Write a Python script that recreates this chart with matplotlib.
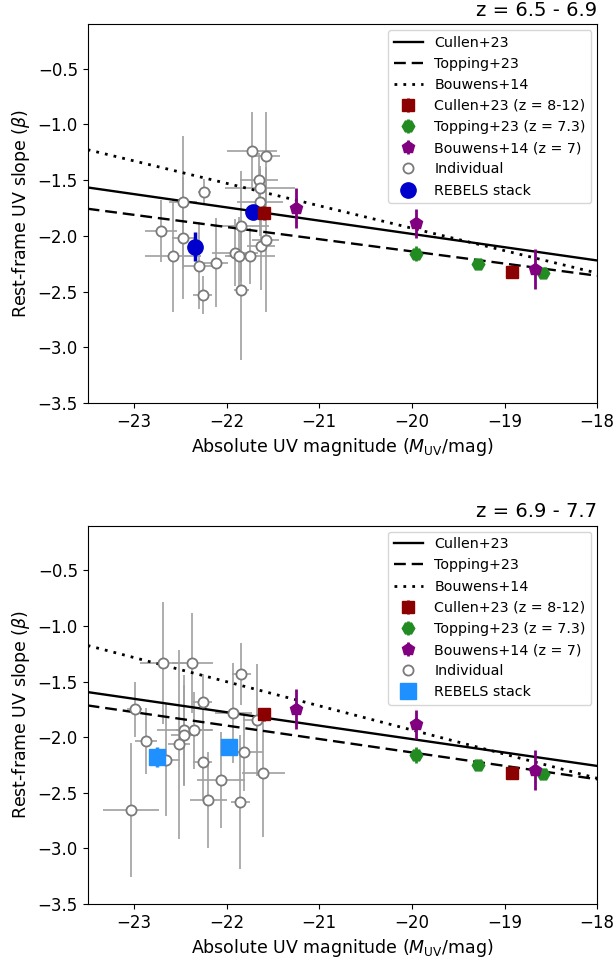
import matplotlib
matplotlib.use("Agg")
import matplotlib.pyplot as plt
import numpy as np

# ---------------- data ----------------
M_ends = [-23.5, -18.0]
# relation values (beta) at M_ends, per panel
cullen_line_top = [-1.566, -2.221]
topping_line_top = [-1.757, -2.358]
bouwens_line_top = [-1.227, -2.334]
cullen_line_bot = [-1.595, -2.259]
topping_line_bot = [-1.715, -2.379]
bouwens_line_bot = [-1.176, -2.370]

# literature points
cullen_M = [-21.60, -18.92]
cullen_b = [-1.795, -2.320]
cullen_err = [0.06, 0.06]
topping_M = [-19.96, -19.29, -18.59]
topping_b = [-2.160, -2.253, -2.334]
topping_err = [0.07, 0.03, 0.03]
bouwens_M = [-21.25, -19.96, -18.67]
bouwens_b = [-1.750, -1.885, -2.298]
bouwens_err = [0.18, 0.13, 0.18]

# individual galaxies, z = 6.5 - 6.9
ind1_M = [-21.73, -21.57, -21.65, -21.64, -21.64, -22.24, -22.47, -22.71, -22.47,
          -21.84, -22.58, -22.30, -22.11, -21.91, -21.87, -21.75, -21.63, -21.58,
          -22.26, -21.84]
ind1_b = [-1.242, -1.287, -1.503, -1.571, -1.700, -1.607, -1.700, -1.957, -2.020,
          -1.916, -2.180, -2.270, -2.240, -2.150, -2.180, -2.180, -2.090, -2.035,
          -2.530, -2.490]
ind1_xerr = [0.27, 0.15, 0.20, 0.38, 0.25, 0.07, 0.15, 0.17, 0.12,
             0.30, 0.30, 0.18, 0.13, 0.25, 0.12, 0.27, 0.15, 0.15,
             0.10, 0.08]
ind1_yerr = [0.35, 0.40, 0.25, 0.20, 0.30, 0.12, 0.60, 0.28, 0.55,
             0.50, 0.50, 0.39, 0.40, 0.30, 0.35, 0.25, 0.40, 0.65,
             0.17, 0.62]
stack1_M = [-22.34, -21.72]
stack1_b = [-2.10, -1.786]
stack1_err = [0.13, 0.06]

# individual galaxies, z = 6.9 - 7.7
ind2_M = [-22.685, -22.37, -21.84, -22.26, -22.99, -21.93, -21.67, -22.455, -22.35,
          -22.455, -22.87, -22.51, -22.65, -22.26, -21.81, -22.06, -21.605, -22.20,
          -21.85, -23.03]
ind2_b = [-1.331, -1.331, -1.430, -1.680, -1.750, -1.780, -1.846, -1.940, -1.940,
          -1.980, -2.035, -2.065, -2.205, -2.220, -2.130, -2.385, -2.325, -2.565,
          -2.585, -2.655]
ind2_xerr = [0.25, 0.22, 0.10, 0.10, 0.08, 0.20, 0.15, 0.30, 0.20,
             0.15, 0.12, 0.12, 0.15, 0.10, 0.20, 0.26, 0.23, 0.20,
             0.10, 0.30]
ind2_yerr = [0.55, 0.45, 0.28, 0.25, 0.25, 0.45, 0.50, 0.50, 0.35,
             0.45, 0.30, 0.85, 0.50, 0.35, 0.35, 0.43, 0.57, 0.43,
             0.60, 0.60]
stack2_M = [-22.75, -21.97]
stack2_b = [-2.18, -2.09]
stack2_err = [0.09, 0.03]

titles = ["z = 6.5 - 6.9", "z = 6.9 - 7.7"]

# ---------------- plotting ----------------
fig = plt.figure(figsize=(6.15, 9.63), dpi=100)
ax1 = fig.add_axes([0.1425, 0.5815, 0.8285, 0.3935])
ax2 = fig.add_axes([0.1425, 0.0613, 0.8285, 0.3927])

panels = [
    (ax1, cullen_line_top, topping_line_top, bouwens_line_top,
     ind1_M, ind1_b, ind1_xerr, ind1_yerr, stack1_M, stack1_b, stack1_err,
     dict(marker='o', color='mediumblue', ms=11)),
    (ax2, cullen_line_bot, topping_line_bot, bouwens_line_bot,
     ind2_M, ind2_b, ind2_xerr, ind2_yerr, stack2_M, stack2_b, stack2_err,
     dict(marker='s', color='dodgerblue', ms=11)),
]

for i, (ax, cl, tl, bl, iM, ib, ixe, iye, sM, sb, se, sty) in enumerate(panels):
    h1, = ax.plot(M_ends, cl, color='black', ls='-', lw=1.7, label='Cullen+23', zorder=3)
    h2, = ax.plot(M_ends, tl, color='black', ls=(0, (5, 2.5)), lw=1.7, label='Topping+23', zorder=3)
    h3, = ax.plot(M_ends, bl, color='black', ls=(0, (1, 2.2)), lw=2.0, label='Bouwens+14', zorder=3)

    h4 = ax.errorbar(cullen_M, cullen_b, yerr=cullen_err, fmt='s', color='darkred',
                     ms=8, elinewidth=2, capsize=0, label='Cullen+23 (z = 8-12)', zorder=6)
    h5 = ax.errorbar(topping_M, topping_b, yerr=topping_err, fmt='H', color='forestgreen',
                     ms=9, elinewidth=2, capsize=0, label='Topping+23 (z = 7.3)', zorder=6)
    h6 = ax.errorbar(bouwens_M, bouwens_b, yerr=bouwens_err, fmt='p', color='purple',
                     ms=9, elinewidth=2, capsize=0, label='Bouwens+14 (z = 7)', zorder=6)

    ax.errorbar(iM, ib, xerr=ixe, yerr=iye, fmt='none', ecolor='#a0a0a0',
                elinewidth=1.2, capsize=0, zorder=2)
    h7, = ax.plot(iM, ib, 'o', mfc='white', mec='#7a7a7a', mew=1.3, ms=7.3, ls='none',
                  label='Individual', zorder=4)

    ax.errorbar(sM, sb, yerr=se, fmt='none', ecolor=sty['color'], elinewidth=2.5,
                capsize=0, zorder=5)
    h8, = ax.plot(sM, sb, ls='none', marker=sty['marker'], color=sty['color'],
                  ms=sty['ms'], label='REBELS stack', zorder=5)

    ax.set_xlim(-23.5, -18)
    ax.set_ylim(-3.5, -0.1)
    ax.set_xticks([-23, -22, -21, -20, -19, -18])
    ax.set_yticks([-3.5, -3.0, -2.5, -2.0, -1.5, -1.0, -0.5])
    ax.tick_params(labelsize=12)
    ax.set_xlabel(r'Absolute UV magnitude ($M_{\rm UV}$/mag)', fontsize=12.5)
    ax.set_ylabel(r'Rest-frame UV slope ($\beta$)', fontsize=12.5)
    ax.set_title(titles[i], loc='right', fontsize=14)
    handles = [h1, h2, h3, h4, h5, h6, h7, h8]
    ax.legend(handles=handles, labels=[h.get_label() for h in handles],
              loc='upper right', fontsize=10.3, handlelength=2.0,
              labelspacing=0.5, borderaxespad=0.4)

fig.savefig('out.png', dpi=100)
